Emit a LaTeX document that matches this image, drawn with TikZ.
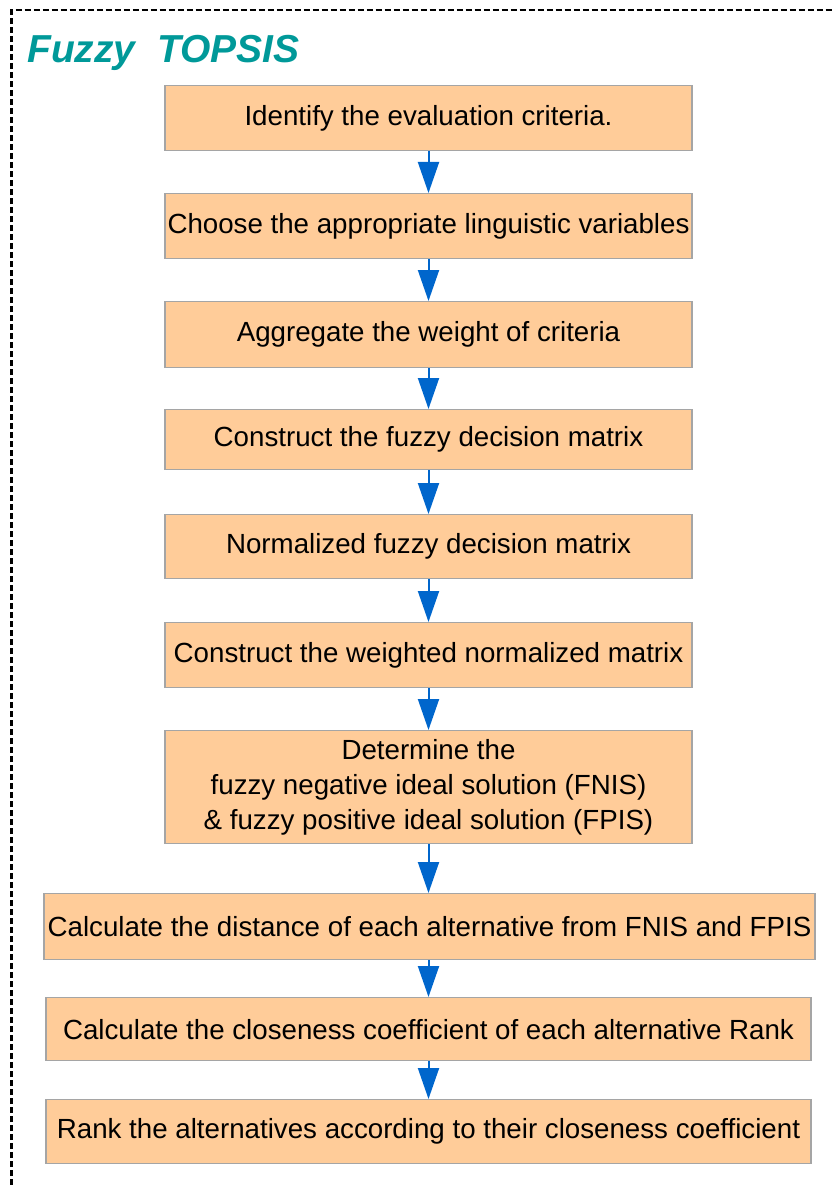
\documentclass[tikz,border=0pt]{standalone}
\usepackage{fontspec}
\setmainfont{Liberation Sans}
\usetikzlibrary{arrows.meta}
\definecolor{boxfill}{RGB}{255,204,153}
\definecolor{boxline}{RGB}{165,165,165}
\definecolor{flowblue}{RGB}{0,102,204}
\definecolor{titleteal}{RGB}{0,153,153}
\begin{document}
\begin{tikzpicture}[x=1pt,y=-1pt,
  stepbox/.style={draw=boxline, fill=boxfill, line width=1.3pt, inner sep=0pt,
    anchor=north, align=center, font=\fontsize{27.7}{35}\selectfont},
  flow/.style={draw=flowblue, line width=2pt,
    -{Triangle[width=21pt,length=31pt]}}]
\useasboundingbox (0,0) rectangle (833,1185);
% dashed frame (top and left sides)
\draw[line width=2.2pt, dash pattern=on 6pt off 3pt] (11.5,1185) -- (11.5,10) -- (833,10);
% heading
\node[anchor=base west, inner sep=0pt, text=titleteal,
  font=\fontsize{39}{44}\selectfont\bfseries\itshape] (title) at (27,63) {Fuzzy\ \ TOPSIS};
% process steps
\node[stepbox, minimum width=527pt, minimum height=65pt] (s1) at (428.5,85) {Identify the evaluation criteria.};
\node[stepbox, minimum width=527pt, minimum height=65pt] (s2) at (428.5,193) {Choose the appropriate linguistic variables};
\node[stepbox, minimum width=527pt, minimum height=66pt] (s3) at (428.5,301) {Aggregate the weight of criteria};
\node[stepbox, minimum width=527pt, minimum height=60pt] (s4) at (428.5,409) {Construct the fuzzy decision matrix};
\node[stepbox, minimum width=527pt, minimum height=64pt] (s5) at (428.5,514) {Normalized fuzzy decision matrix};
\node[stepbox, minimum width=527pt, minimum height=65pt] (s6) at (428.5,622) {Construct the weighted normalized matrix};
\node[stepbox, minimum width=527pt, minimum height=113pt] (s7) at (428.5,730) {Determine the\\fuzzy negative ideal solution (FNIS)\\\& fuzzy positive ideal solution (FPIS)};
\node[stepbox, minimum width=771pt, minimum height=66pt] (s8) at (429.5,893) {Calculate the distance of each alternative from FNIS and FPIS};
\node[stepbox, minimum width=765pt, minimum height=63pt] (s9) at (428.5,997) {Calculate the closeness coefficient of each alternative Rank};
\node[stepbox, minimum width=765pt, minimum height=64pt] (s10) at (428.5,1099) {Rank the alternatives according to their closeness coefficient};
% connectors
\foreach \a/\b in {s1/s2,s2/s3,s3/s4,s4/s5,s5/s6,s6/s7,s7/s8,s8/s9,s9/s10}
  \draw[flow] (\a.south -| s1.south) -- (\b.north -| s1.north);
\end{tikzpicture}
\end{document}
